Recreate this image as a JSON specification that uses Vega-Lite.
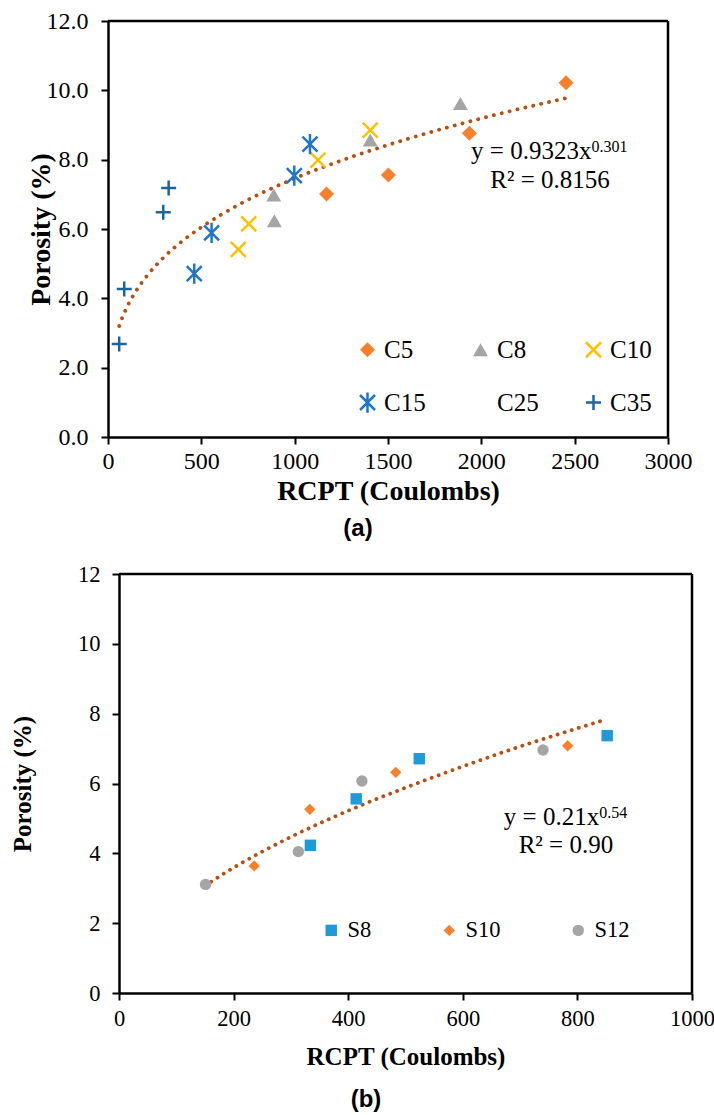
{
  "$schema": "https://vega.github.io/schema/vega-lite/v6.json",
  "padding": {"left": 10, "top": 9, "right": 5, "bottom": 5},
  "spacing": 22,
  "config": {
    "view": {"stroke": null},
    "font": "Liberation Serif",
    "style": {"guide-label": {"font": "Liberation Serif", "fill": "black"}, "guide-title": {"font": "Liberation Serif", "fill": "black"}},
    "axis": {"domainColor": "black", "domainWidth": 2.5, "tickColor": "black", "tickWidth": 2, "tickSize": 7, "grid": false, "labelColor": "black", "titleColor": "black", "labelFont": "Liberation Serif", "titleFont": "Liberation Serif", "labelFlush": false, "labelOverlap": false, "titleFontWeight": "bold"},
    "title": {"font": "Liberation Sans", "fontWeight": "bold", "color": "black"}
  },
  "resolve": {
    "scale": {"x": "independent", "y": "independent", "fill": "independent", "stroke": "independent", "shape": "independent", "size": "independent", "color": "independent"},
    "legend": {"fill": "independent", "stroke": "independent", "shape": "independent", "size": "independent", "color": "independent"}
  },
  "vconcat": [
    {
      "width": 560,
      "height": 416,
      "title": {"text": "(a)", "orient": "bottom", "fontSize": 24, "offset": 12, "dx": -30},
      "layer": [
        {
          "data": {"values": [
            {"rcpt": 60, "por": 3.2}, {"rcpt": 80, "por": 3.49}, {"rcpt": 100, "por": 3.73}, {"rcpt": 150, "por": 4.21},
            {"rcpt": 200, "por": 4.59}, {"rcpt": 300, "por": 5.19}, {"rcpt": 400, "por": 5.66}, {"rcpt": 500, "por": 6.05},
            {"rcpt": 700, "por": 6.7}, {"rcpt": 1000, "por": 7.46}, {"rcpt": 1300, "por": 8.07}, {"rcpt": 1600, "por": 8.59},
            {"rcpt": 2000, "por": 9.19}, {"rcpt": 2450, "por": 9.77}
          ]},
          "mark": {"type": "line", "color": "#BA4E0E", "strokeWidth": 3.8, "strokeDash": [0.1, 8], "strokeCap": "round", "interpolate": "monotone"},
          "encoding": {
            "x": {"field": "rcpt", "type": "quantitative", "scale": {"domain": [0, 3000], "nice": false},
              "axis": {"title": "RCPT (Coulombs)", "values": [0, 500, 1000, 1500, 2000, 2500, 3000], "format": "d", "labelFont": "Liberation Serif", "titleFont": "Liberation Serif", "labelFontSize": 24, "labelPadding": 5, "titleFontSize": 28, "titlePadding": 4}},
            "y": {"field": "por", "type": "quantitative", "scale": {"domain": [0, 12], "nice": false},
              "axis": {"title": "Porosity (%)", "values": [0, 2, 4, 6, 8, 10, 12], "format": ".1f", "labelFont": "Liberation Serif", "titleFont": "Liberation Serif", "labelFontSize": 24, "labelPadding": 13, "titleFontSize": 28, "titlePadding": -9}}
          }
        },
        {
          "data": {"values": [{"a": 1}]},
          "mark": {"type": "rule", "color": "black", "strokeWidth": 2.5},
          "encoding": {"x": {"datum": 0, "type": "quantitative"}, "x2": {"datum": 3000}, "y": {"datum": 12, "type": "quantitative"}}
        },
        {
          "data": {"values": [{"a": 1}]},
          "mark": {"type": "rule", "color": "black", "strokeWidth": 2.5},
          "encoding": {"x": {"datum": 3000, "type": "quantitative"}, "y": {"datum": 0, "type": "quantitative"}, "y2": {"datum": 12}}
        },
        {
          "data": {"values": [
            {"mix": "C5", "rcpt": 1171, "por": 7.01}, {"mix": "C5", "rcpt": 1502, "por": 7.56}, {"mix": "C5", "rcpt": 1936, "por": 8.76}, {"mix": "C5", "rcpt": 2454, "por": 10.22},
            {"mix": "C8", "rcpt": 888, "por": 6.98}, {"mix": "C8", "rcpt": 891, "por": 6.24}, {"mix": "C8", "rcpt": 1405, "por": 8.57}, {"mix": "C8", "rcpt": 1888, "por": 9.62},
            {"mix": "C10", "rcpt": 698, "por": 5.41}, {"mix": "C10", "rcpt": 754, "por": 6.15}, {"mix": "C10", "rcpt": 1125, "por": 7.99}, {"mix": "C10", "rcpt": 1405, "por": 8.85},
            {"mix": "C15", "rcpt": 462, "por": 4.71}, {"mix": "C15", "rcpt": 555, "por": 5.89}, {"mix": "C15", "rcpt": 998, "por": 7.54}, {"mix": "C15", "rcpt": 1082, "por": 8.45},
            {"mix": "C35", "rcpt": 60, "por": 2.68}, {"mix": "C35", "rcpt": 87, "por": 4.27}, {"mix": "C35", "rcpt": 296, "por": 6.48}, {"mix": "C35", "rcpt": 325, "por": 7.18}
          ]},
          "mark": {"type": "point", "strokeWidth": 2.5, "opacity": 1},
          "encoding": {
            "x": {"field": "rcpt", "type": "quantitative"},
            "y": {"field": "por", "type": "quantitative"},
            "fill": {"field": "mix", "type": "nominal", "scale": {"domain": ["C5", "C8", "C10", "C15", "C25", "C35"], "range": ["#FA7F2C", "#A5A5A5", "transparent", "transparent", "transparent", "transparent"]},
              "legend": {"title": null, "orient": "none", "direction": "horizontal", "legendX": 247, "legendY": 316, "columns": 3, "columnPadding": 42, "rowPadding": 24, "labelFontSize": 25, "labelFont": "Liberation Serif", "labelColor": "black", "labelOffset": 4, "padding": 0, "symbolStrokeWidth": 2.5}},
            "stroke": {"field": "mix", "type": "nominal", "scale": {"domain": ["C5", "C8", "C10", "C15", "C25", "C35"], "range": ["transparent", "transparent", "#FFC000", "#1F74CC", "transparent", "#1B64A0"]},
              "legend": {"title": null, "orient": "none", "direction": "horizontal", "legendX": 247, "legendY": 316, "columns": 3, "columnPadding": 42, "rowPadding": 24, "labelFontSize": 25, "labelFont": "Liberation Serif", "labelColor": "black", "labelOffset": 4, "padding": 0, "symbolStrokeWidth": 2.5}},
            "shape": {"field": "mix", "type": "nominal", "scale": {"domain": ["C5", "C8", "C10", "C15", "C25", "C35"], "range": ["diamond", "triangle-up", "M-1,-1L1,1M1,-1L-1,1", "M-1,-1L1,1M1,-1L-1,1M0,-1.35L0,1.35", "circle", "M-1,0L1,0M0,-1L0,1"]},
              "legend": {"title": null, "orient": "none", "direction": "horizontal", "legendX": 247, "legendY": 316, "columns": 3, "columnPadding": 42, "rowPadding": 24, "labelFontSize": 25, "labelFont": "Liberation Serif", "labelColor": "black", "labelOffset": 4, "padding": 0, "symbolStrokeWidth": 2.5}},
            "size": {"field": "mix", "type": "nominal", "scale": {"domain": ["C5", "C8", "C10", "C15", "C25", "C35"], "range": [225, 225, 169, 169, 169, 169]},
              "legend": {"title": null, "orient": "none", "direction": "horizontal", "legendX": 247, "legendY": 316, "columns": 3, "columnPadding": 42, "rowPadding": 24, "labelFontSize": 25, "labelFont": "Liberation Serif", "labelColor": "black", "labelOffset": 4, "padding": 0, "symbolStrokeWidth": 2.5}}
          }
        },
        {
          "data": {"values": [{"t": "y = 0.9323x"}]},
          "mark": {"type": "text", "align": "right", "baseline": "alphabetic", "fontSize": 25, "font": "Liberation Serif", "color": "black"},
          "encoding": {"x": {"datum": 2590, "type": "quantitative"}, "y": {"datum": 8.02, "type": "quantitative"}, "text": {"field": "t"}}
        },
        {
          "data": {"values": [{"t": "0.301"}]},
          "mark": {"type": "text", "align": "left", "baseline": "alphabetic", "fontSize": 16, "font": "Liberation Serif", "color": "black"},
          "encoding": {"x": {"datum": 2590, "type": "quantitative"}, "y": {"datum": 8.22, "type": "quantitative"}, "text": {"field": "t"}}
        },
        {
          "data": {"values": [{"t": "R² = 0.8156"}]},
          "mark": {"type": "text", "align": "center", "baseline": "alphabetic", "fontSize": 25, "font": "Liberation Serif", "color": "black"},
          "encoding": {"x": {"datum": 2368, "type": "quantitative"}, "y": {"datum": 7.18, "type": "quantitative"}, "text": {"field": "t"}}
        }
      ]
    },
    {
      "width": 584,
      "height": 419,
      "title": {"text": "(b)", "orient": "bottom", "fontSize": 24, "offset": 18, "dx": -34},
      "layer": [
        {
          "data": {"values": [
            {"rcpt": 150, "por": 3.07}, {"rcpt": 200, "por": 3.59}, {"rcpt": 250, "por": 4.05}, {"rcpt": 300, "por": 4.47},
            {"rcpt": 400, "por": 5.22}, {"rcpt": 500, "por": 5.88}, {"rcpt": 600, "por": 6.49}, {"rcpt": 700, "por": 7.06},
            {"rcpt": 800, "por": 7.58}, {"rcpt": 847, "por": 7.82}
          ]},
          "mark": {"type": "line", "color": "#BA4E0E", "strokeWidth": 3.8, "strokeDash": [0.1, 7.3], "strokeCap": "round", "interpolate": "monotone"},
          "encoding": {
            "x": {"field": "rcpt", "type": "quantitative", "scale": {"domain": [0, 1000], "nice": false, "range": [11, 584]},
              "axis": {"title": "RCPT (Coulombs)", "values": [0, 200, 400, 600, 800, 1000], "format": "d", "labelFont": "Liberation Serif", "titleFont": "Liberation Serif", "labelFontSize": 22.5, "labelPadding": 7, "titleFontSize": 25, "titlePadding": 15}},
            "y": {"field": "por", "type": "quantitative", "scale": {"domain": [0, 12], "nice": false},
              "axis": {"title": "Porosity (%)", "offset": -11, "values": [0, 2, 4, 6, 8, 10, 12], "format": "d", "labelFont": "Liberation Serif", "titleFont": "Liberation Serif", "labelFontSize": 22.5, "labelPadding": 12, "titleFontSize": 25, "titlePadding": 42}}
          }
        },
        {
          "data": {"values": [{"a": 1}]},
          "mark": {"type": "rule", "color": "black", "strokeWidth": 2.5},
          "encoding": {"x": {"datum": 0, "type": "quantitative"}, "x2": {"datum": 1000}, "y": {"datum": 12, "type": "quantitative"}}
        },
        {
          "data": {"values": [{"a": 1}]},
          "mark": {"type": "rule", "color": "black", "strokeWidth": 2.5},
          "encoding": {"x": {"datum": 1000, "type": "quantitative"}, "y": {"datum": 0, "type": "quantitative"}, "y2": {"datum": 12}}
        },
        {
          "data": {"values": [
            {"mix": "S8", "rcpt": 334, "por": 4.23}, {"mix": "S8", "rcpt": 414, "por": 5.56}, {"mix": "S8", "rcpt": 524, "por": 6.71}, {"mix": "S8", "rcpt": 852, "por": 7.37},
            {"mix": "S10", "rcpt": 236, "por": 3.64}, {"mix": "S10", "rcpt": 333, "por": 5.26}, {"mix": "S10", "rcpt": 483, "por": 6.32}, {"mix": "S10", "rcpt": 783, "por": 7.08},
            {"mix": "S12", "rcpt": 151, "por": 3.11}, {"mix": "S12", "rcpt": 313, "por": 4.05}, {"mix": "S12", "rcpt": 424, "por": 6.07}, {"mix": "S12", "rcpt": 740, "por": 6.96}
          ]},
          "mark": {"type": "point", "filled": true, "opacity": 1, "size": 130},
          "encoding": {
            "x": {"field": "rcpt", "type": "quantitative"},
            "y": {"field": "por", "type": "quantitative"},
            "color": {"field": "mix", "type": "nominal", "scale": {"domain": ["S8", "S10", "S12"], "range": ["#1E9AD8", "#FA7F2C", "#A5A5A5"]},
              "legend": {"title": null, "orient": "none", "direction": "horizontal", "legendX": 212, "legendY": 345, "columns": 3, "columnPadding": 66, "labelFontSize": 22.5, "labelFont": "Liberation Serif", "labelColor": "black", "labelOffset": 5, "padding": 0, "symbolSize": 130}},
            "shape": {"field": "mix", "type": "nominal", "scale": {"domain": ["S8", "S10", "S12"], "range": ["square", "diamond", "circle"]},
              "legend": {"title": null, "orient": "none", "direction": "horizontal", "legendX": 212, "legendY": 345, "columns": 3, "columnPadding": 66, "labelFontSize": 22.5, "labelFont": "Liberation Serif", "labelColor": "black", "labelOffset": 5, "padding": 0, "symbolSize": 130}}
          }
        },
        {
          "data": {"values": [{"t": "y = 0.21x"}]},
          "mark": {"type": "text", "align": "right", "baseline": "alphabetic", "fontSize": 25, "font": "Liberation Serif", "color": "black"},
          "encoding": {"x": {"datum": 838, "type": "quantitative"}, "y": {"datum": 4.81, "type": "quantitative"}, "text": {"field": "t"}}
        },
        {
          "data": {"values": [{"t": "0.54"}]},
          "mark": {"type": "text", "align": "left", "baseline": "alphabetic", "fontSize": 16, "font": "Liberation Serif", "color": "black"},
          "encoding": {"x": {"datum": 838, "type": "quantitative"}, "y": {"datum": 5.02, "type": "quantitative"}, "text": {"field": "t"}}
        },
        {
          "data": {"values": [{"t": "R² = 0.90"}]},
          "mark": {"type": "text", "align": "center", "baseline": "alphabetic", "fontSize": 25, "font": "Liberation Serif", "color": "black"},
          "encoding": {"x": {"datum": 780, "type": "quantitative"}, "y": {"datum": 4.0, "type": "quantitative"}, "text": {"field": "t"}}
        }
      ]
    }
  ]
}
